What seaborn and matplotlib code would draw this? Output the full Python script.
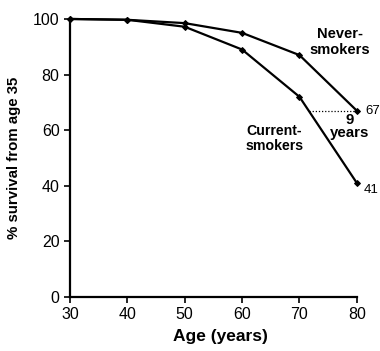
import matplotlib
matplotlib.use("Agg")
import matplotlib.pyplot as plt
import seaborn as sns
import pandas as pd

ages = [30, 40, 50, 60, 70, 80]
never_smokers = [100, 99.7, 98.5, 95, 87, 67]
current_smokers = [100, 99.7, 97.2, 89, 72, 41]
x_ticks = [30, 40, 50, 60, 70, 80]
y_ticks = [0, 20, 40, 60, 80, 100]

df = pd.concat([
    pd.DataFrame({"age": ages, "survival": never_smokers, "group": "Never-smokers"}),
    pd.DataFrame({"age": ages, "survival": current_smokers, "group": "Current-smokers"}),
])

sns.set_style("ticks")
plt.rcParams["font.family"] = ["Liberation Sans", "DejaVu Sans"]
plt.rcParams["text.color"] = "black"
plt.rcParams["axes.labelcolor"] = "black"

fig = plt.figure(figsize=(3.8, 3.51), dpi=100)
ax = fig.add_axes([0.184, 0.154, 0.755, 0.792])

sns.lineplot(data=df, x="age", y="survival", units="group", estimator=None,
             color="black", linewidth=1.6, marker="D", markersize=3,
             markeredgecolor="black", ax=ax, clip_on=False, legend=False)

# dotted gap between the curves at 67% survival
cross_age = 70 + (72 - 67) / (72 - 41) * 10
ax.plot([cross_age, 80], [67, 67], color="black", linestyle=(0, (1, 1.5)),
        linewidth=0.9, clip_on=False)

ax.set_xlim(30, 80)
ax.set_ylim(0, 100)
ax.set_xticks(x_ticks)
ax.set_yticks(y_ticks)
ax.tick_params(labelsize=11.5, width=1.2, length=4, color="black", labelcolor="black")
for s in ["left", "bottom"]:
    ax.spines[s].set_linewidth(1.6)
    ax.spines[s].set_color("black")
sns.despine(ax=ax)

ax.set_xlabel("Age (years)", fontsize=12.5, fontweight="bold")
ax.xaxis.set_label_coords(0.523, -0.115)
ax.set_ylabel("% survival from age 35", fontsize=10.8, fontweight="bold")
ax.yaxis.set_label_coords(-0.17, 0.5)

ax.text(81.5, 67, "67", fontsize=9.5, va="center", ha="left")
ax.text(81.2, 38.5, "41", fontsize=9.5, va="center", ha="left")
ax.text(77.0, 91.7, "Never-\nsmokers", fontsize=10.5, fontweight="bold",
        ha="center", va="center", linespacing=1.15)
ax.text(65.6, 57, "Current-\nsmokers", fontsize=10.2, fontweight="bold",
        ha="center", va="center", linespacing=1.15)
ax.text(78.8, 61.3, "9\nyears", fontsize=10.8, fontweight="bold",
        ha="center", va="center", linespacing=0.95)

fig.savefig("out.png", dpi=100)
